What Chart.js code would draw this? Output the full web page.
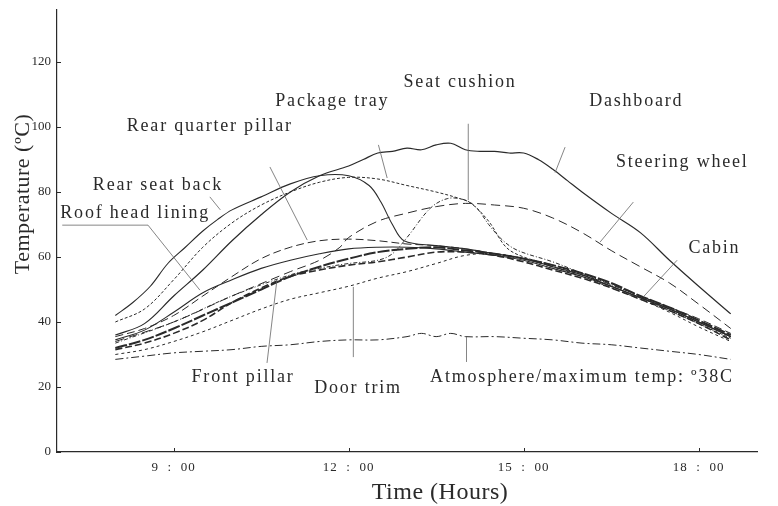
<!DOCTYPE html>
<html>
<head>
<meta charset="utf-8">
<script src="https://cdn.jsdelivr.net/npm/chart.js@4.4.1/dist/chart.umd.min.js"></script>
<style>
  html, body { margin: 0; padding: 0; background: #fff; }
  #wrap { width: 778px; height: 506px; }
</style>
</head>
<body>
<div id="wrap"><canvas id="chart"></canvas></div>
<script>
// readings as [hour, temperature ºC]
const dashboard = [[8.0,36],[8.5,39.5],[9.0,48],[9.5,56],[10.0,65],[10.5,73],[11.0,80],[11.5,85],[12.0,88],[12.25,90],[12.5,92],[12.75,92.5],[13.0,93.5],[13.25,93],[13.5,94.5],[13.75,95],[14.0,93],[14.25,92.5],[14.5,92.5],[14.75,92],[15.0,92],[15.25,90],[15.5,87],[15.75,83.5],[16.0,80],[16.5,73.5],[17.0,67.5],[17.5,59],[18.0,51],[18.55,42.5]];
const rearSeatBack = [[8.0,42],[8.3,46],[8.6,51],[8.9,58],[9.2,63],[9.5,68],[9.75,71.5],[10.0,74.5],[10.5,78.5],[11.0,82.5],[11.5,85],[12.0,85],[12.35,82],[12.55,77],[12.75,70],[12.95,65],[13.5,63.5],[14.0,62.5],[14.5,61],[15.0,59.5],[15.5,57],[16.0,54.5],[16.5,51],[17.0,47.5],[17.5,44],[18.0,40],[18.55,35.5]];
const packageTray = [[8.0,40],[8.5,44],[9.0,53],[9.5,63],[10.0,70.5],[10.5,76],[11.0,80],[11.5,83],[12.0,84.5],[12.5,84],[13.0,82],[13.5,80],[13.9,78],[14.1,76.5],[14.4,71],[14.7,63],[15.0,60],[15.5,57.5],[16.0,54.5],[16.5,51],[17.0,47.5],[17.5,43.5],[18.0,39.5],[18.55,35]];
const seatCushion = [[8.0,33.5],[9.0,40],[10.0,48],[11.0,54.5],[11.5,56.5],[12.0,58],[12.5,59],[12.75,61],[13.0,66],[13.4,75],[13.7,78],[14.0,77.5],[14.2,75],[14.4,70],[14.65,65],[14.9,62],[15.5,58.5],[16.0,55],[16.5,51.5],[17.0,48],[17.5,44],[18.0,40],[18.55,35.5]];
const steeringWheel = [[8.0,34],[9.0,40],[10.0,48],[11.0,55.5],[11.5,59],[11.85,63],[12.0,66],[12.5,71],[13.0,73.5],[13.5,75.5],[14.0,76.5],[14.5,76],[15.0,75],[15.5,72],[16.0,67.5],[16.5,62],[17.0,57],[17.5,52],[18.0,45.5],[18.55,38]];
const rearQuarterPillar = [[8.0,35.5],[8.5,38],[9.0,42],[9.5,48],[10.0,54],[10.5,59.5],[11.0,63],[11.5,65],[12.0,65.5],[12.5,65],[13.0,64],[13.5,63.5],[14.0,62.5],[14.5,61],[15.0,59.5],[15.5,57],[16.0,54.5],[16.5,51.5],[17.0,48],[17.5,44.5],[18.0,41],[18.55,36.5]];
const roofHeadLining = [[8.0,34.5],[8.5,37.5],[9.0,43],[9.5,49],[10.0,53],[10.5,56.5],[11.0,59],[11.5,61],[12.0,62.5],[12.5,63],[13.0,63],[13.5,62.5],[14.0,61.5],[14.5,60.5],[15.0,59],[15.5,56.5],[16.0,54],[16.5,51],[17.0,47.5],[17.5,44],[18.0,40],[18.55,35.5]];
const cabin = [[8.0,32],[8.5,34.5],[9.0,38],[9.5,42],[10.0,46],[10.5,50],[11.0,54],[11.5,57],[12.0,59.5],[12.5,61.5],[13.0,62.5],[13.5,63],[14.0,62],[14.5,61],[15.0,59.5],[15.5,57.5],[16.0,55],[16.5,52],[17.0,48],[17.5,44.5],[18.0,40.5],[18.55,36]];
const frontPillar = [[8.0,31.5],[8.5,33.5],[9.0,36.5],[9.5,40.5],[10.0,46],[10.5,50.5],[11.0,54],[11.5,56],[12.0,57.5],[12.5,58.5],[13.0,60],[13.5,61.5],[14.0,61.5],[14.5,60.5],[15.0,58.5],[15.5,56],[16.0,53.5],[16.5,50.5],[17.0,47],[17.5,43.5],[18.0,39.5],[18.55,34.5]];
const doorTrim = [[8.0,30],[8.5,31.5],[9.0,34],[9.5,37],[10.0,40.5],[10.5,44],[11.0,47],[11.5,49],[12.0,51],[12.5,53.5],[13.0,55.5],[13.5,58],[14.0,60.5],[14.5,61],[15.0,59.5],[15.5,57],[16.0,54],[16.5,50.5],[17.0,47],[17.5,43],[18.0,38.5],[18.55,34]];
const atmosphere = [[8.0,28.5],[8.5,29.5],[9.0,30.5],[9.5,31],[10.0,31.5],[10.5,32.5],[11.0,33],[11.5,34],[12.0,34.5],[12.5,34.5],[13.0,35.5],[13.25,36.5],[13.5,35.5],[13.75,36.5],[14.0,35.5],[14.5,35.5],[15.0,35],[15.5,34.5],[16.0,33.5],[16.5,33],[17.0,32],[17.5,31],[18.0,30],[18.55,28.5]];

const xTicks = [9, 12, 15, 18];
const yTicks = [0, 20, 40, 60, 80, 100, 120];

// callout text and its leader line, in data units (hour, ºC)
const notes = [
  { text: "Package tray", at: [11.72, 108], lead: [[12.51, 94.5], [12.66, 84.3]] },
  { text: "Seat cushion", at: [13.91, 113.8], lead: [[14.05, 101], [14.05, 77.5]] },
  { text: "Dashboard", at: [16.93, 108], lead: [[15.71, 93.8], [15.54, 86]] },
  { text: "Steering wheel", at: [17.72, 89], lead: [[16.88, 76.9], [16.31, 64.6]] },
  { text: "Cabin", at: [18.27, 62.8], lead: [[17.63, 59], [17.05, 47.7]] },
  { text: "Rear quarter pillar", at: [9.62, 100.3], lead: [[10.65, 87.7], [11.29, 65.2]] },
  { text: "Rear seat back", at: [8.73, 82.2], lead: [[9.62, 78.5], [9.8, 74.5]] },
  { text: "Roof head lining", at: [8.34, 73.5], lead: [[7.09, 69.8], [8.56, 69.8], [9.45, 49.8]] },
  { text: "Front pillar", at: [10.19, 23], lead: [[10.6, 27.4], [10.77, 52.9]] },
  { text: "Door trim", at: [12.16, 19.7], lead: [[12.08, 29.2], [12.08, 50.8]] },
  { text: "Atmosphere/maximum temp: º38C", at: [16.0, 23], lead: [[14.02, 35.4], [14.02, 27.7]] },
];

const ink = "#2a2a2a";
const serif = "'Liberation Serif', serif";

function line(label, data, dash, width) {
  return {
    label,
    data: data.map(([x, y]) => ({ x, y })),
    borderColor: ink,
    borderWidth: width || 1.1,
    borderDash: dash,
    pointRadius: 0,
    tension: 0.35,
    fill: false,
  };
}

const callouts = {
  id: "callouts",
  afterDraw(chart) {
    const { ctx, scales: { x, y }, chartArea } = chart;
    ctx.save();
    // inward tick marks
    ctx.strokeStyle = ink;
    ctx.lineWidth = 1;
    ctx.beginPath();
    yTicks.forEach((v) => {
      const py = Math.round(y.getPixelForValue(v)) + 0.5;
      ctx.moveTo(chartArea.left, py);
      ctx.lineTo(chartArea.left + 4, py);
    });
    xTicks.forEach((v) => {
      const px = Math.round(x.getPixelForValue(v)) + 0.5;
      ctx.moveTo(px, chartArea.bottom);
      ctx.lineTo(px, chartArea.bottom - 4);
    });
    ctx.stroke();

    // tick labels
    ctx.fillStyle = ink;
    ctx.textBaseline = "middle";
    ctx.font = "13px " + serif;
    ctx.textAlign = "right";
    yTicks.forEach((v) => ctx.fillText(String(v), chartArea.left - 6, y.getPixelForValue(v)));
    ctx.textAlign = "center";
    ctx.letterSpacing = "1px";
    xTicks.forEach((v) => ctx.fillText(`${v}  :  00`, x.getPixelForValue(v), chartArea.bottom + 16));

    // leaders
    ctx.strokeStyle = "#666";
    ctx.lineWidth = 0.8;
    notes.forEach((n) => {
      ctx.beginPath();
      n.lead.forEach(([h, t], i) => {
        const px = x.getPixelForValue(h), py = y.getPixelForValue(t);
        if (i === 0) ctx.moveTo(px, py); else ctx.lineTo(px, py);
      });
      ctx.stroke();
    });

    // callout text
    ctx.fillStyle = ink;
    ctx.font = "18px " + serif;
    ctx.letterSpacing = "1.8px";
    notes.forEach((n) => {
      ctx.fillText(n.text, x.getPixelForValue(n.at[0]), y.getPixelForValue(n.at[1]));
    });

    // axis titles
    ctx.letterSpacing = "0.5px";
    ctx.font = "24px " + serif;
    ctx.fillText("Time (Hours)", 440, 493);
    ctx.translate(23, 194);
    ctx.rotate(-Math.PI / 2);
    ctx.font = "22px " + serif;
    ctx.fillText("Temperature (ºC)", 0, 0);
    ctx.restore();
  },
};

new Chart(document.getElementById("chart"), {
  type: "line",
  data: {
    datasets: [
      line("Dashboard", dashboard, [], 1.2),
      line("Rear seat back", rearSeatBack, [], 1.1),
      line("Package tray", packageTray, [3, 2], 1),
      line("Seat cushion", seatCushion, [4, 2, 1, 2], 1),
      line("Steering wheel", steeringWheel, [9, 5], 1),
      line("Rear quarter pillar", rearQuarterPillar, [8, 4], 1),
      line("Roof head lining", roofHeadLining, [], 1.1),
      line("Cabin", cabin, [12, 2], 2),
      line("Front pillar", frontPillar, [7, 3], 1.6),
      line("Door trim", doorTrim, [3, 3], 1),
      line("Atmosphere", atmosphere, [8, 3, 2, 3], 1),
    ],
  },
  options: {
    responsive: true,
    maintainAspectRatio: false,
    animation: false,
    layout: { padding: { top: 10, right: 21, left: 0, bottom: 0 } },
    plugins: { legend: { display: false }, tooltip: { enabled: false } },
    scales: {
      x: {
        type: "linear",
        min: 7,
        max: 19,
        afterBuildTicks: (s) => { s.ticks = xTicks.map((v) => ({ value: v })); },
        afterFit: (s) => { s.height = 54; },
        grid: { display: false },
        border: { display: true, color: ink, width: 1.2 },
        ticks: { display: false },
      },
      y: {
        min: 0,
        max: 136,
        afterBuildTicks: (s) => { s.ticks = yTicks.map((v) => ({ value: v })); },
        afterFit: (s) => { s.width = 57; },
        grid: { display: false },
        border: { display: true, color: ink, width: 1.2 },
        ticks: { display: false },
      },
    },
  },
  plugins: [callouts],
});
</script>
</body>
</html>
